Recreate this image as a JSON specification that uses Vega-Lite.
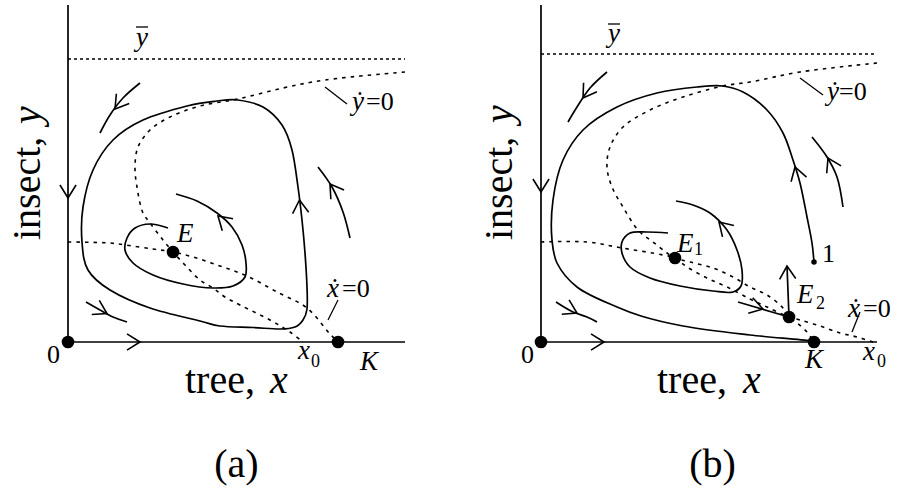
{
  "$schema": "https://vega.github.io/schema/vega-lite/v6.json",
  "padding": 0,
  "background": "white",
  "spacing": 49,
  "config": {"view": {"stroke": null}},
  "data": {"values": [
    {"p":"a","k":"axis","x":0,"y":0,"x2":0,"y2":3.37},
    {"p":"a","k":"axis","x":0,"y":0,"x2":3.37,"y2":0},
    {"p":"a","k":"ybar","x":0,"y":2.83,"x2":3.37,"y2":2.83},
    {"p":"a","k":"tick","x":2.57,"y":2.55,"x2":2.79,"y2":2.38},
    {"p":"a","k":"tick","x":2.70,"y":0.42,"x2":2.60,"y2":0.22},
    {"p":"a","k":"tick","x":0.68,"y":3.15,"x2":0.80,"y2":3.15},

    {"p":"a","k":"loop","id":"a-loop","o":1,"x":1.70,"y":2.42},
    {"p":"a","k":"loop","id":"a-loop","o":2,"x":1.95,"y":2.35},
    {"p":"a","k":"loop","id":"a-loop","o":3,"x":2.14,"y":2.17},
    {"p":"a","k":"loop","id":"a-loop","o":4,"x":2.24,"y":1.92},
    {"p":"a","k":"loop","id":"a-loop","o":5,"x":2.30,"y":1.55},
    {"p":"a","k":"loop","id":"a-loop","o":6,"x":2.34,"y":1.22},
    {"p":"a","k":"loop","id":"a-loop","o":7,"x":2.37,"y":0.89},
    {"p":"a","k":"loop","id":"a-loop","o":8,"x":2.39,"y":0.55},
    {"p":"a","k":"loop","id":"a-loop","o":9,"x":2.39,"y":0.33},
    {"p":"a","k":"loop","id":"a-loop","o":10,"x":2.35,"y":0.22},
    {"p":"a","k":"loop","id":"a-loop","o":11,"x":2.27,"y":0.15},
    {"p":"a","k":"loop","id":"a-loop","o":12,"x":2.12,"y":0.13},
    {"p":"a","k":"loop","id":"a-loop","o":13,"x":1.85,"y":0.145},
    {"p":"a","k":"loop","id":"a-loop","o":14,"x":1.52,"y":0.16},
    {"p":"a","k":"loop","id":"a-loop","o":15,"x":1.32,"y":0.21},
    {"p":"a","k":"loop","id":"a-loop","o":16,"x":0.82,"y":0.34},
    {"p":"a","k":"loop","id":"a-loop","o":17,"x":0.42,"y":0.52},
    {"p":"a","k":"loop","id":"a-loop","o":18,"x":0.20,"y":0.72},
    {"p":"a","k":"loop","id":"a-loop","o":19,"x":0.14,"y":1.00},
    {"p":"a","k":"loop","id":"a-loop","o":20,"x":0.15,"y":1.35},
    {"p":"a","k":"loop","id":"a-loop","o":21,"x":0.25,"y":1.72},
    {"p":"a","k":"loop","id":"a-loop","o":22,"x":0.45,"y":2.02},
    {"p":"a","k":"loop","id":"a-loop","o":23,"x":0.75,"y":2.22},
    {"p":"a","k":"loop","id":"a-loop","o":24,"x":1.19,"y":2.36},
    {"p":"a","k":"loop","id":"a-loop","o":25,"x":1.49,"y":2.41},

    {"p":"a","k":"traj","id":"a-in","o":1,"x":1.00,"y":1.14},
    {"p":"a","k":"traj","id":"a-in","o":2,"x":0.82,"y":1.18},
    {"p":"a","k":"traj","id":"a-in","o":3,"x":0.67,"y":1.14},
    {"p":"a","k":"traj","id":"a-in","o":4,"x":0.59,"y":1.04},
    {"p":"a","k":"traj","id":"a-in","o":5,"x":0.57,"y":0.92},
    {"p":"a","k":"traj","id":"a-in","o":6,"x":0.65,"y":0.79},
    {"p":"a","k":"traj","id":"a-in","o":7,"x":0.85,"y":0.67},
    {"p":"a","k":"traj","id":"a-in","o":8,"x":1.15,"y":0.58},
    {"p":"a","k":"traj","id":"a-in","o":9,"x":1.45,"y":0.54},
    {"p":"a","k":"traj","id":"a-in","o":10,"x":1.65,"y":0.56},
    {"p":"a","k":"traj","id":"a-in","o":11,"x":1.77,"y":0.65},
    {"p":"a","k":"traj","id":"a-in","o":12,"x":1.78,"y":0.79},
    {"p":"a","k":"traj","id":"a-in","o":13,"x":1.74,"y":0.97},
    {"p":"a","k":"traj","id":"a-in","o":14,"x":1.64,"y":1.15},
    {"p":"a","k":"traj","id":"a-in","o":15,"x":1.49,"y":1.29},
    {"p":"a","k":"traj","id":"a-in","o":16,"x":1.29,"y":1.41},
    {"p":"a","k":"traj","id":"a-in","o":17,"x":1.08,"y":1.48},

    {"p":"a","k":"traj","id":"a-tl","o":1,"x":0.32,"y":2.09},
    {"p":"a","k":"traj","id":"a-tl","o":2,"x":0.42,"y":2.27},
    {"p":"a","k":"traj","id":"a-tl","o":3,"x":0.55,"y":2.44},
    {"p":"a","k":"traj","id":"a-tl","o":4,"x":0.72,"y":2.59},
    {"p":"a","k":"traj","id":"a-r","o":1,"x":2.50,"y":1.75},
    {"p":"a","k":"traj","id":"a-r","o":2,"x":2.64,"y":1.55},
    {"p":"a","k":"traj","id":"a-r","o":3,"x":2.75,"y":1.30},
    {"p":"a","k":"traj","id":"a-r","o":4,"x":2.82,"y":1.04},
    {"p":"a","k":"traj","id":"a-bl","o":1,"x":0.18,"y":0.40},
    {"p":"a","k":"traj","id":"a-bl","o":2,"x":0.32,"y":0.32},
    {"p":"a","k":"traj","id":"a-bl","o":3,"x":0.45,"y":0.25},
    {"p":"a","k":"traj","id":"a-bl","o":4,"x":0.59,"y":0.20},

    {"p":"a","k":"null","id":"a-nx","o":1,"x":0,"y":1.00},
    {"p":"a","k":"null","id":"a-nx","o":2,"x":0.42,"y":0.99},
    {"p":"a","k":"null","id":"a-nx","o":3,"x":0.57,"y":0.97},
    {"p":"a","k":"null","id":"a-nx","o":4,"x":0.85,"y":0.93},
    {"p":"a","k":"null","id":"a-nx","o":5,"x":1.05,"y":0.90},
    {"p":"a","k":"null","id":"a-nx","o":6,"x":1.25,"y":0.85},
    {"p":"a","k":"null","id":"a-nx","o":7,"x":1.52,"y":0.76},
    {"p":"a","k":"null","id":"a-nx","o":8,"x":1.79,"y":0.66},
    {"p":"a","k":"null","id":"a-nx","o":9,"x":2.09,"y":0.50},
    {"p":"a","k":"null","id":"a-nx","o":10,"x":2.39,"y":0.34},
    {"p":"a","k":"null","id":"a-nx","o":11,"x":2.62,"y":0.08},
    {"p":"a","k":"null","id":"a-nx","o":12,"x":2.70,"y":0.0},

    {"p":"a","k":"null","id":"a-ny","o":1,"x":3.37,"y":2.70},
    {"p":"a","k":"null","id":"a-ny","o":2,"x":2.57,"y":2.62},
    {"p":"a","k":"null","id":"a-ny","o":3,"x":2.15,"y":2.54},
    {"p":"a","k":"null","id":"a-ny","o":4,"x":1.70,"y":2.43},
    {"p":"a","k":"null","id":"a-ny","o":5,"x":1.32,"y":2.36},
    {"p":"a","k":"null","id":"a-ny","o":6,"x":1.02,"y":2.25},
    {"p":"a","k":"null","id":"a-ny","o":7,"x":0.82,"y":2.12},
    {"p":"a","k":"null","id":"a-ny","o":8,"x":0.70,"y":1.95},
    {"p":"a","k":"null","id":"a-ny","o":9,"x":0.67,"y":1.75},
    {"p":"a","k":"null","id":"a-ny","o":10,"x":0.69,"y":1.55},
    {"p":"a","k":"null","id":"a-ny","o":11,"x":0.75,"y":1.29},
    {"p":"a","k":"null","id":"a-ny","o":12,"x":0.82,"y":1.19},
    {"p":"a","k":"null","id":"a-ny","o":13,"x":0.95,"y":1.02},
    {"p":"a","k":"null","id":"a-ny","o":14,"x":1.05,"y":0.90},
    {"p":"a","k":"null","id":"a-ny","o":15,"x":1.17,"y":0.77},
    {"p":"a","k":"null","id":"a-ny","o":16,"x":1.32,"y":0.62},
    {"p":"a","k":"null","id":"a-ny","o":17,"x":1.45,"y":0.54},
    {"p":"a","k":"null","id":"a-ny","o":18,"x":1.57,"y":0.45},
    {"p":"a","k":"null","id":"a-ny","o":19,"x":1.72,"y":0.37},
    {"p":"a","k":"null","id":"a-ny","o":20,"x":2.02,"y":0.22},
    {"p":"a","k":"null","id":"a-ny","o":21,"x":2.22,"y":0.10},
    {"p":"a","k":"null","id":"a-ny","o":22,"x":2.35,"y":0.0},

    {"p":"a","k":"eq","x":0,"y":0},
    {"p":"a","k":"eq","x":2.70,"y":0},
    {"p":"a","k":"eq","x":1.05,"y":0.90},

    {"p":"a","k":"arrow","x":0,"y":1.44,"a":90},
    {"p":"a","k":"arrow","x":0.72,"y":0,"a":0},
    {"p":"a","k":"arrow","x":2.315,"y":1.42,"a":-95},
    {"p":"a","k":"arrow","x":1.50,"y":1.26,"a":-138},
    {"p":"a","k":"arrow","x":0.47,"y":2.33,"a":127},
    {"p":"a","k":"arrow","x":2.62,"y":1.58,"a":-125},
    {"p":"a","k":"arrow","x":0.39,"y":0.285,"a":28},

    {"p":"a","k":"tt","t":"tree,","x":1.17,"y":-0.51},
    {"p":"a","k":"tv","t":"x","x":2.02,"y":-0.51},
    {"p":"a","k":"yt","t":"insect,","x":-0.28,"y":1.02},
    {"p":"a","k":"yv","t":"y","x":-0.28,"y":2.18},
    {"p":"a","k":"cap","t":"(a)","x":1.685,"y":-1.35},
    {"p":"a","k":"lv","t":"E","x":1.09,"y":1.00},
    {"p":"a","k":"lv","t":"K","x":2.92,"y":-0.28},
    {"p":"a","k":"lv","t":"x","x":2.30,"y":-0.17},
    {"p":"a","k":"lv","t":"y","x":0.68,"y":2.96},
    {"p":"a","k":"lv","t":"ẏ","x":2.84,"y":2.32},
    {"p":"a","k":"lv","t":"ẋ","x":2.59,"y":0.45},
    {"p":"a","k":"ln","t":"0","x":-0.21,"y":-0.21},
    {"p":"a","k":"ln","t":"=0","x":2.98,"y":2.32},
    {"p":"a","k":"ln","t":"=0","x":2.74,"y":0.45},
    {"p":"a","k":"sub","t":"0","x":2.43,"y":-0.25},

    {"p":"b","k":"axis","x":0,"y":0,"x2":0,"y2":3.37},
    {"p":"b","k":"axis","x":0,"y":0,"x2":3.36,"y2":0},
    {"p":"b","k":"ybar","x":0,"y":2.88,"x2":3.36,"y2":2.88},
    {"p":"b","k":"tick","x":2.59,"y":2.64,"x2":2.82,"y2":2.47},
    {"p":"b","k":"tick","x":3.19,"y":0.30,"x2":3.11,"y2":0.10},
    {"p":"b","k":"tick","x":0.67,"y":3.18,"x2":0.79,"y2":3.18},

    {"p":"b","k":"traj","id":"b-big","o":1,"x":2.73,"y":0.80},
    {"p":"b","k":"traj","id":"b-big","o":2,"x":2.71,"y":0.99},
    {"p":"b","k":"traj","id":"b-big","o":3,"x":2.66,"y":1.25},
    {"p":"b","k":"traj","id":"b-big","o":4,"x":2.59,"y":1.59},
    {"p":"b","k":"traj","id":"b-big","o":5,"x":2.52,"y":1.82},
    {"p":"b","k":"traj","id":"b-big","o":6,"x":2.42,"y":2.09},
    {"p":"b","k":"traj","id":"b-big","o":7,"x":2.26,"y":2.32},
    {"p":"b","k":"traj","id":"b-big","o":8,"x":2.02,"y":2.50},
    {"p":"b","k":"traj","id":"b-big","o":9,"x":1.82,"y":2.56},
    {"p":"b","k":"traj","id":"b-big","o":10,"x":1.56,"y":2.55},
    {"p":"b","k":"traj","id":"b-big","o":11,"x":1.16,"y":2.49},
    {"p":"b","k":"traj","id":"b-big","o":12,"x":0.76,"y":2.35},
    {"p":"b","k":"traj","id":"b-big","o":13,"x":0.42,"y":2.12},
    {"p":"b","k":"traj","id":"b-big","o":14,"x":0.22,"y":1.82},
    {"p":"b","k":"traj","id":"b-big","o":15,"x":0.12,"y":1.42},
    {"p":"b","k":"traj","id":"b-big","o":16,"x":0.11,"y":1.02},
    {"p":"b","k":"traj","id":"b-big","o":17,"x":0.16,"y":0.79},
    {"p":"b","k":"traj","id":"b-big","o":18,"x":0.36,"y":0.55},
    {"p":"b","k":"traj","id":"b-big","o":19,"x":0.76,"y":0.35},
    {"p":"b","k":"traj","id":"b-big","o":20,"x":1.00,"y":0.26},
    {"p":"b","k":"traj","id":"b-big","o":21,"x":1.42,"y":0.16},
    {"p":"b","k":"traj","id":"b-big","o":22,"x":2.09,"y":0.07},
    {"p":"b","k":"traj","id":"b-big","o":23,"x":2.69,"y":0.01},
    {"p":"b","k":"traj","id":"b-big","o":24,"x":2.73,"y":0.0},

    {"p":"b","k":"traj","id":"b-in","o":1,"x":1.27,"y":1.09},
    {"p":"b","k":"traj","id":"b-in","o":2,"x":1.06,"y":1.10},
    {"p":"b","k":"traj","id":"b-in","o":3,"x":0.89,"y":1.09},
    {"p":"b","k":"traj","id":"b-in","o":4,"x":0.81,"y":1.00},
    {"p":"b","k":"traj","id":"b-in","o":5,"x":0.81,"y":0.89},
    {"p":"b","k":"traj","id":"b-in","o":6,"x":0.89,"y":0.75},
    {"p":"b","k":"traj","id":"b-in","o":7,"x":1.09,"y":0.64},
    {"p":"b","k":"traj","id":"b-in","o":8,"x":1.39,"y":0.56},
    {"p":"b","k":"traj","id":"b-in","o":9,"x":1.72,"y":0.51},
    {"p":"b","k":"traj","id":"b-in","o":10,"x":1.92,"y":0.50},
    {"p":"b","k":"traj","id":"b-in","o":11,"x":2.00,"y":0.56},
    {"p":"b","k":"traj","id":"b-in","o":12,"x":2.01,"y":0.72},
    {"p":"b","k":"traj","id":"b-in","o":13,"x":1.96,"y":0.92},
    {"p":"b","k":"traj","id":"b-in","o":14,"x":1.86,"y":1.12},
    {"p":"b","k":"traj","id":"b-in","o":15,"x":1.69,"y":1.29},
    {"p":"b","k":"traj","id":"b-in","o":16,"x":1.52,"y":1.37},
    {"p":"b","k":"traj","id":"b-in","o":17,"x":1.35,"y":1.41},

    {"p":"b","k":"traj","id":"b-tl","o":1,"x":0.27,"y":2.20},
    {"p":"b","k":"traj","id":"b-tl","o":2,"x":0.36,"y":2.35},
    {"p":"b","k":"traj","id":"b-tl","o":3,"x":0.49,"y":2.54},
    {"p":"b","k":"traj","id":"b-tl","o":4,"x":0.66,"y":2.70},
    {"p":"b","k":"traj","id":"b-r","o":1,"x":2.71,"y":2.05},
    {"p":"b","k":"traj","id":"b-r","o":2,"x":2.86,"y":1.85},
    {"p":"b","k":"traj","id":"b-r","o":3,"x":2.96,"y":1.65},
    {"p":"b","k":"traj","id":"b-r","o":4,"x":3.02,"y":1.35},
    {"p":"b","k":"traj","id":"b-bl","o":1,"x":0.15,"y":0.40},
    {"p":"b","k":"traj","id":"b-bl","o":2,"x":0.32,"y":0.30},
    {"p":"b","k":"traj","id":"b-bl","o":3,"x":0.46,"y":0.25},
    {"p":"b","k":"traj","id":"b-bl","o":4,"x":0.56,"y":0.20},
    {"p":"b","k":"traj","id":"b-st","o":1,"x":1.97,"y":0.40},
    {"p":"b","k":"traj","id":"b-st","o":2,"x":2.48,"y":0.25},
    {"p":"b","k":"traj","id":"b-un","o":1,"x":2.48,"y":0.25},
    {"p":"b","k":"traj","id":"b-un","o":2,"x":2.46,"y":0.76},

    {"p":"b","k":"null","id":"b-nx","o":1,"x":0,"y":1.00},
    {"p":"b","k":"null","id":"b-nx","o":2,"x":0.46,"y":1.00},
    {"p":"b","k":"null","id":"b-nx","o":3,"x":0.81,"y":0.94},
    {"p":"b","k":"null","id":"b-nx","o":4,"x":1.22,"y":0.87},
    {"p":"b","k":"null","id":"b-nx","o":5,"x":1.34,"y":0.84},
    {"p":"b","k":"null","id":"b-nx","o":6,"x":1.46,"y":0.75},
    {"p":"b","k":"null","id":"b-nx","o":7,"x":1.66,"y":0.64},
    {"p":"b","k":"null","id":"b-nx","o":8,"x":1.86,"y":0.55},
    {"p":"b","k":"null","id":"b-nx","o":9,"x":2.09,"y":0.43},
    {"p":"b","k":"null","id":"b-nx","o":10,"x":2.26,"y":0.35},
    {"p":"b","k":"null","id":"b-nx","o":11,"x":2.48,"y":0.25},
    {"p":"b","k":"null","id":"b-nx","o":12,"x":2.59,"y":0.22},
    {"p":"b","k":"null","id":"b-nx","o":13,"x":2.79,"y":0.16},
    {"p":"b","k":"null","id":"b-nx","o":14,"x":2.99,"y":0.09},
    {"p":"b","k":"null","id":"b-nx","o":15,"x":3.16,"y":0.05},
    {"p":"b","k":"null","id":"b-nx","o":16,"x":3.32,"y":0.0},

    {"p":"b","k":"null","id":"b-ny","o":1,"x":3.36,"y":2.79},
    {"p":"b","k":"null","id":"b-ny","o":2,"x":2.59,"y":2.70},
    {"p":"b","k":"null","id":"b-ny","o":3,"x":2.09,"y":2.60},
    {"p":"b","k":"null","id":"b-ny","o":4,"x":1.82,"y":2.56},
    {"p":"b","k":"null","id":"b-ny","o":5,"x":1.42,"y":2.45},
    {"p":"b","k":"null","id":"b-ny","o":6,"x":1.09,"y":2.32},
    {"p":"b","k":"null","id":"b-ny","o":7,"x":0.82,"y":2.15},
    {"p":"b","k":"null","id":"b-ny","o":8,"x":0.69,"y":1.95},
    {"p":"b","k":"null","id":"b-ny","o":9,"x":0.66,"y":1.75},
    {"p":"b","k":"null","id":"b-ny","o":10,"x":0.71,"y":1.55},
    {"p":"b","k":"null","id":"b-ny","o":11,"x":0.82,"y":1.35},
    {"p":"b","k":"null","id":"b-ny","o":12,"x":0.97,"y":1.12},
    {"p":"b","k":"null","id":"b-ny","o":13,"x":1.12,"y":1.00},
    {"p":"b","k":"null","id":"b-ny","o":14,"x":1.26,"y":0.89},
    {"p":"b","k":"null","id":"b-ny","o":15,"x":1.34,"y":0.84},
    {"p":"b","k":"null","id":"b-ny","o":16,"x":1.49,"y":0.80},
    {"p":"b","k":"null","id":"b-ny","o":17,"x":1.72,"y":0.74},
    {"p":"b","k":"null","id":"b-ny","o":18,"x":1.92,"y":0.65},
    {"p":"b","k":"null","id":"b-ny","o":19,"x":2.09,"y":0.55},
    {"p":"b","k":"null","id":"b-ny","o":20,"x":2.26,"y":0.47},
    {"p":"b","k":"null","id":"b-ny","o":21,"x":2.42,"y":0.34},
    {"p":"b","k":"null","id":"b-ny","o":22,"x":2.48,"y":0.25},
    {"p":"b","k":"null","id":"b-ny","o":23,"x":2.56,"y":0.19},
    {"p":"b","k":"null","id":"b-ny","o":24,"x":2.66,"y":0.10},
    {"p":"b","k":"null","id":"b-ny","o":25,"x":2.73,"y":0.0},

    {"p":"b","k":"eq","x":0,"y":0},
    {"p":"b","k":"eq","x":2.73,"y":0},
    {"p":"b","k":"eq","x":1.34,"y":0.84},
    {"p":"b","k":"eq","x":2.48,"y":0.25},
    {"p":"b","k":"dot","x":2.73,"y":0.80},

    {"p":"b","k":"arrow","x":0,"y":1.50,"a":90},
    {"p":"b","k":"arrow","x":0.63,"y":0,"a":0},
    {"p":"b","k":"arrow","x":2.54,"y":1.75,"a":-107},
    {"p":"b","k":"arrow","x":1.78,"y":1.20,"a":-135},
    {"p":"b","k":"arrow","x":0.42,"y":2.44,"a":124},
    {"p":"b","k":"arrow","x":2.87,"y":1.84,"a":-117},
    {"p":"b","k":"arrow","x":0.36,"y":0.29,"a":27},
    {"p":"b","k":"arrow","x":2.22,"y":0.33,"a":16},
    {"p":"b","k":"arrow","x":2.46,"y":0.76,"a":-93},

    {"p":"b","k":"tt","t":"tree,","x":1.16,"y":-0.51},
    {"p":"b","k":"tv","t":"x","x":2.02,"y":-0.51},
    {"p":"b","k":"yt","t":"insect,","x":-0.29,"y":1.02},
    {"p":"b","k":"yv","t":"y","x":-0.29,"y":2.19},
    {"p":"b","k":"cap","t":"(b)","x":1.715,"y":-1.35},
    {"p":"b","k":"lv","t":"E","x":1.36,"y":0.90},
    {"p":"b","k":"lv","t":"E","x":2.56,"y":0.39},
    {"p":"b","k":"lv","t":"K","x":2.64,"y":-0.26},
    {"p":"b","k":"lv","t":"x","x":3.22,"y":-0.18},
    {"p":"b","k":"lv","t":"y","x":0.67,"y":3.00},
    {"p":"b","k":"lv","t":"ẏ","x":2.86,"y":2.42},
    {"p":"b","k":"lv","t":"ẋ","x":3.07,"y":0.25},
    {"p":"b","k":"ln","t":"0","x":-0.20,"y":-0.21},
    {"p":"b","k":"ln","t":"1","x":2.81,"y":0.80},
    {"p":"b","k":"ln","t":"=0","x":2.98,"y":2.42},
    {"p":"b","k":"ln","t":"=0","x":3.22,"y":0.25},
    {"p":"b","k":"sub","t":"0","x":3.36,"y":-0.25},
    {"p":"b","k":"sub","t":"1","x":1.53,"y":0.87},
    {"p":"b","k":"sub","t":"2","x":2.75,"y":0.33}
  ]},
  "facet": {"column": {"field": "p", "type": "nominal", "title": null, "header": {"labels": false, "title": null}}},
  "spec": {
    "width": 424,
    "height": 492,
    "encoding": {
      "x": {"field": "x", "type": "quantitative", "axis": null, "scale": {"domain": [-0.68, 3.56], "nice": false, "zero": false}},
      "y": {"field": "y", "type": "quantitative", "axis": null, "scale": {"domain": [-1.5, 3.42], "nice": false, "zero": false}}
    },
    "layer": [
      {
        "transform": [{"filter": "datum.k === 'ybar'"}],
        "mark": {"type": "rule", "color": "black", "strokeWidth": 1.3, "strokeDash": [3, 3]},
        "encoding": {"x2": {"field": "x2"}, "y2": {"field": "y2"}}
      },
      {
        "transform": [{"filter": "datum.k === 'null'"}],
        "mark": {"type": "line", "interpolate": "catmull-rom", "color": "black", "strokeWidth": 1.6, "strokeDash": [3.5, 5]},
        "encoding": {"detail": {"field": "id"}, "order": {"field": "o", "type": "quantitative"}}
      },
      {
        "transform": [{"filter": "datum.k === 'loop'"}],
        "mark": {"type": "line", "interpolate": "cardinal-closed", "color": "black", "strokeWidth": 1.7},
        "encoding": {"detail": {"field": "id"}, "order": {"field": "o", "type": "quantitative"}}
      },
      {
        "transform": [{"filter": "datum.k === 'traj'"}],
        "mark": {"type": "line", "interpolate": "catmull-rom", "color": "black", "strokeWidth": 1.7},
        "encoding": {"detail": {"field": "id"}, "order": {"field": "o", "type": "quantitative"}}
      },
      {
        "transform": [{"filter": "datum.k === 'axis'"}],
        "mark": {"type": "rule", "color": "black", "strokeWidth": 1.7},
        "encoding": {"x2": {"field": "x2"}, "y2": {"field": "y2"}}
      },
      {
        "transform": [{"filter": "datum.k === 'tick'"}],
        "mark": {"type": "rule", "color": "black", "strokeWidth": 1.3},
        "encoding": {"x2": {"field": "x2"}, "y2": {"field": "y2"}}
      },
      {
        "transform": [{"filter": "datum.k === 'eq'"}],
        "mark": {"type": "point", "shape": "circle", "filled": true, "color": "black", "opacity": 1, "size": 160}
      },
      {
        "transform": [{"filter": "datum.k === 'dot'"}],
        "mark": {"type": "point", "shape": "circle", "filled": true, "color": "black", "opacity": 1, "size": 30}
      },
      {
        "transform": [{"filter": "datum.k === 'arrow'"}],
        "mark": {"type": "point", "shape": "M-1,-0.62L0,0L-1,0.62", "filled": false, "color": "black", "opacity": 1, "strokeWidth": 1.6, "size": 676},
        "encoding": {"angle": {"field": "a", "type": "quantitative", "scale": null}}
      },
      {
        "transform": [{"filter": "datum.k === 'tt'"}],
        "mark": {"type": "text", "font": "Liberation Serif", "fontSize": 40, "align": "left", "baseline": "alphabetic", "color": "black"},
        "encoding": {"text": {"field": "t"}}
      },
      {
        "transform": [{"filter": "datum.k === 'tv'"}],
        "mark": {"type": "text", "font": "Liberation Serif", "fontSize": 40, "fontStyle": "italic", "align": "left", "baseline": "alphabetic", "color": "black"},
        "encoding": {"text": {"field": "t"}}
      },
      {
        "transform": [{"filter": "datum.k === 'yt'"}],
        "mark": {"type": "text", "font": "Liberation Serif", "fontSize": 40, "angle": 270, "align": "left", "baseline": "alphabetic", "color": "black"},
        "encoding": {"text": {"field": "t"}}
      },
      {
        "transform": [{"filter": "datum.k === 'yv'"}],
        "mark": {"type": "text", "font": "Liberation Serif", "fontSize": 40, "fontStyle": "italic", "angle": 270, "align": "left", "baseline": "alphabetic", "color": "black"},
        "encoding": {"text": {"field": "t"}}
      },
      {
        "transform": [{"filter": "datum.k === 'cap'"}],
        "mark": {"type": "text", "font": "Liberation Serif", "fontSize": 40, "align": "center", "baseline": "alphabetic", "color": "black"},
        "encoding": {"text": {"field": "t"}}
      },
      {
        "transform": [{"filter": "datum.k === 'lv'"}],
        "mark": {"type": "text", "font": "Liberation Serif", "fontSize": 27, "fontStyle": "italic", "align": "left", "baseline": "alphabetic", "color": "black"},
        "encoding": {"text": {"field": "t"}}
      },
      {
        "transform": [{"filter": "datum.k === 'ln'"}],
        "mark": {"type": "text", "font": "Liberation Serif", "fontSize": 26, "align": "left", "baseline": "alphabetic", "color": "black"},
        "encoding": {"text": {"field": "t"}}
      },
      {
        "transform": [{"filter": "datum.k === 'sub'"}],
        "mark": {"type": "text", "font": "Liberation Serif", "fontSize": 18, "align": "left", "baseline": "alphabetic", "color": "black"},
        "encoding": {"text": {"field": "t"}}
      }
    ]
  }
}
